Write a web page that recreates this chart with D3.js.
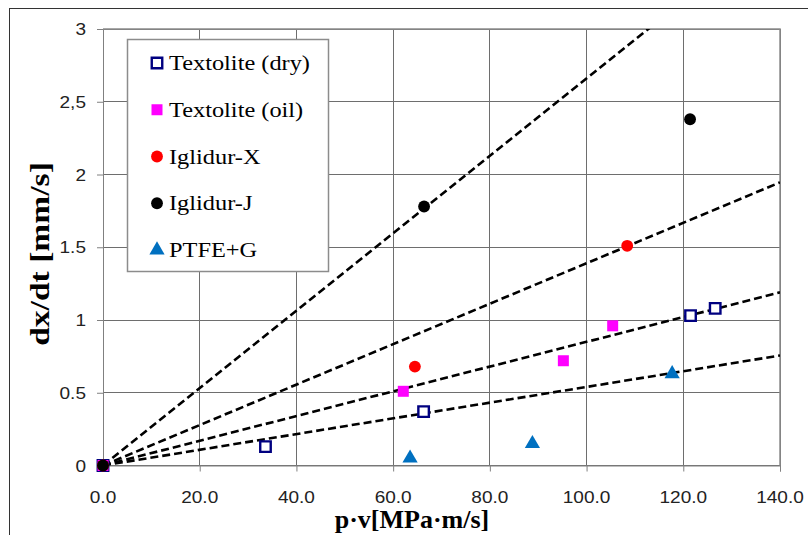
<!DOCTYPE html>
<html>
<head>
<meta charset="utf-8">
<script src="https://cdn.jsdelivr.net/npm/d3@7"></script>
<style>
  html, body { margin: 0; padding: 0; background: #fff; }
  svg { display: block; }
</style>
</head>
<body>
<svg id="chart" width="808" height="535"></svg>
<script>
// ---- data ----
const seriesNames = ["Textolite (dry)", "Textolite (oil)", "Iglidur-X", "Iglidur-J", "PTFE+G"];
const dryX = [0, 33.6, 66.3, 121.5, 126.6];
const dryY = [0, 0.13, 0.37, 1.03, 1.08];
const oilX = [0, 62.1, 95.2, 105.4];
const oilY = [0, 0.51, 0.72, 0.96];
const iglXx = [0, 64.5, 108.4];
const iglXy = [0, 0.68, 1.51];
const iglJx = [0, 66.4, 121.4];
const iglJy = [0, 1.78, 2.38];
const ptfeX = [63.5, 88.8, 117.7];
const ptfeY = [0.05, 0.15, 0.63];
const trendSlopes = [0.0266, 0.0139, 0.0085, 0.0054];
const xTicks = [0, 20, 40, 60, 80, 100, 120, 140];
const xTickLabels = ["0.0", "20.0", "40.0", "60.0", "80.0", "100.0", "120.0", "140.0"];
const yTicks = [0, 0.5, 1, 1.5, 2, 2.5, 3];
const yTickLabels = ["0", "0.5", "1", "1.5", "2", "2,5", "3"];

// ---- layout ----
const svg = d3.select("#chart");
const pL = 103, pR = 780, pT = 29, pB = 465.5;
const x = d3.scaleLinear().domain([0, 140]).range([pL, pR]);
const y = d3.scaleLinear().domain([0, 3]).range([pB, pT]);

// outer frame
svg.append("rect").attr("x", 9.5).attr("y", 8.5).attr("width", 820).attr("height", 540)
  .attr("fill", "none").attr("stroke", "#333").attr("stroke-width", 1);

// grid
const grid = svg.append("g").attr("stroke", "#6e6e6e").attr("stroke-width", 1).attr("shape-rendering", "crispEdges");
grid.selectAll("line.h").data(yTicks).join("line").attr("class", "h")
  .attr("x1", pL).attr("x2", pR)
  .attr("y1", d => y(d)).attr("y2", d => y(d));
grid.selectAll("line.v").data(xTicks).join("line").attr("class", "v")
  .attr("y1", pT).attr("y2", pB)
  .attr("x1", d => x(d)).attr("x2", d => x(d));

// axes (tick marks)
const yAxis = d3.axisLeft(y).tickValues(yTicks).tickSize(6).tickFormat("");
const xAxis = d3.axisBottom(x).tickValues(xTicks).tickSize(6).tickFormat("");
const gy = svg.append("g").attr("transform", `translate(${pL},0)`).call(yAxis);
const gx = svg.append("g").attr("transform", `translate(0,${pB})`).call(xAxis);
[gx, gy].forEach(g => {
  g.select(".domain").attr("stroke", "#808080");
  g.selectAll(".tick line").attr("stroke", "#808080");
});

// tick labels
const tickFont = "'Liberation Sans', Arial, sans-serif";
svg.append("g").selectAll("text").data(yTicks).join("text")
  .attr("transform", d => `translate(86,${y(d) + 6}) scale(1.12,1)`)
  .attr("text-anchor", "end")
  .attr("font-family", tickFont).attr("font-size", 17).attr("fill", "#222")
  .text((d, i) => yTickLabels[i]);
svg.append("g").selectAll("text").data(xTicks).join("text")
  .attr("transform", d => `translate(${x(d)},${503}) scale(1.12,1)`)
  .attr("text-anchor", "middle")
  .attr("font-family", tickFont).attr("font-size", 17).attr("fill", "#222")
  .text((d, i) => xTickLabels[i]);

// axis titles
const serif = "'Liberation Serif', 'Times New Roman', serif";
svg.append("text")
  .attr("transform", `translate(49,254) rotate(-90) scale(1.2,1)`)
  .attr("text-anchor", "middle")
  .attr("font-family", serif).attr("font-weight", "bold").attr("font-size", 28).attr("fill", "#000")
  .text("dx/dt [mm/s]");
svg.append("text")
  .attr("x", 412).attr("y", 528)
  .attr("text-anchor", "middle")
  .attr("font-family", serif).attr("font-weight", "bold").attr("font-size", 26).attr("fill", "#000")
  .text("p·v[MPa·m/s]");

// plot border (top/right)
svg.append("path")
  .attr("d", `M${pL},${pT}H${pR}V${pB}`)
  .attr("fill", "none").attr("stroke", "#8c8c8c").attr("stroke-width", 1.5);

// clip
svg.append("clipPath").attr("id", "clip").append("rect")
  .attr("x", pL).attr("y", pT).attr("width", pR - pL).attr("height", pB - pT);

// trend lines
const line = d3.line().x(d => x(d[0])).y(d => y(d[1]));
svg.append("g").attr("clip-path", "url(#clip)")
  .selectAll("path").data(trendSlopes).join("path")
  .attr("d", s => line([[0, 0], [140, 140 * s]]))
  .attr("fill", "none").attr("stroke", "#000").attr("stroke-width", 2.6)
  .attr("stroke-dasharray", "8,4");

// markers
const sym = {
  sq: d3.symbol().type(d3.symbolSquare).size(110)(),
  sqF: d3.symbol().type(d3.symbolSquare).size(121)(),
  circ: d3.symbol().type(d3.symbolCircle).size(110)(),
  tri: d3.symbol().type(d3.symbolTriangle).size(100)()
};
const series = [
  { xs: dryX, ys: dryY, path: sym.sq, fill: "#fff", stroke: "#000080", sw: 2.4 },
  { xs: oilX, ys: oilY, path: sym.sqF, fill: "#ff00ff", stroke: "none", sw: 0 },
  { xs: iglXx, ys: iglXy, path: sym.circ, fill: "#ff0000", stroke: "none", sw: 0 },
  { xs: iglJx, ys: iglJy, path: sym.circ, fill: "#000", stroke: "none", sw: 0 },
  { xs: ptfeX, ys: ptfeY, path: sym.tri, fill: "#0070c0", stroke: "none", sw: 0 }
];
const gm = svg.append("g");
series.forEach(s => {
  gm.append("g").selectAll("path").data(s.xs.map((v, i) => [v, s.ys[i]])).join("path")
    .attr("d", s.path)
    .attr("transform", d => `translate(${x(d[0])},${y(d[1])})`)
    .attr("fill", s.fill).attr("stroke", s.stroke).attr("stroke-width", s.sw);
});

// legend
const lg = svg.append("g");
lg.append("rect").attr("x", 127.5).attr("y", 39.5).attr("width", 201).attr("height", 232)
  .attr("fill", "#fff").attr("stroke", "#8c8c8c").attr("stroke-width", 1.5);
const legY = d3.scalePoint().domain(seriesNames).range([63, 250]);
seriesNames.forEach((name, i) => {
  const s = series[i];
  lg.append("path").attr("d", s.path)
    .attr("transform", `translate(157,${legY(name)})`)
    .attr("fill", s.fill).attr("stroke", s.stroke).attr("stroke-width", s.sw);
  lg.append("text")
    .attr("transform", `translate(169,${legY(name) + 7}) scale(1.16,1)`)
    .attr("font-family", serif).attr("font-size", 21).attr("fill", "#000")
    .text(name);
});
</script>
</body>
</html>
